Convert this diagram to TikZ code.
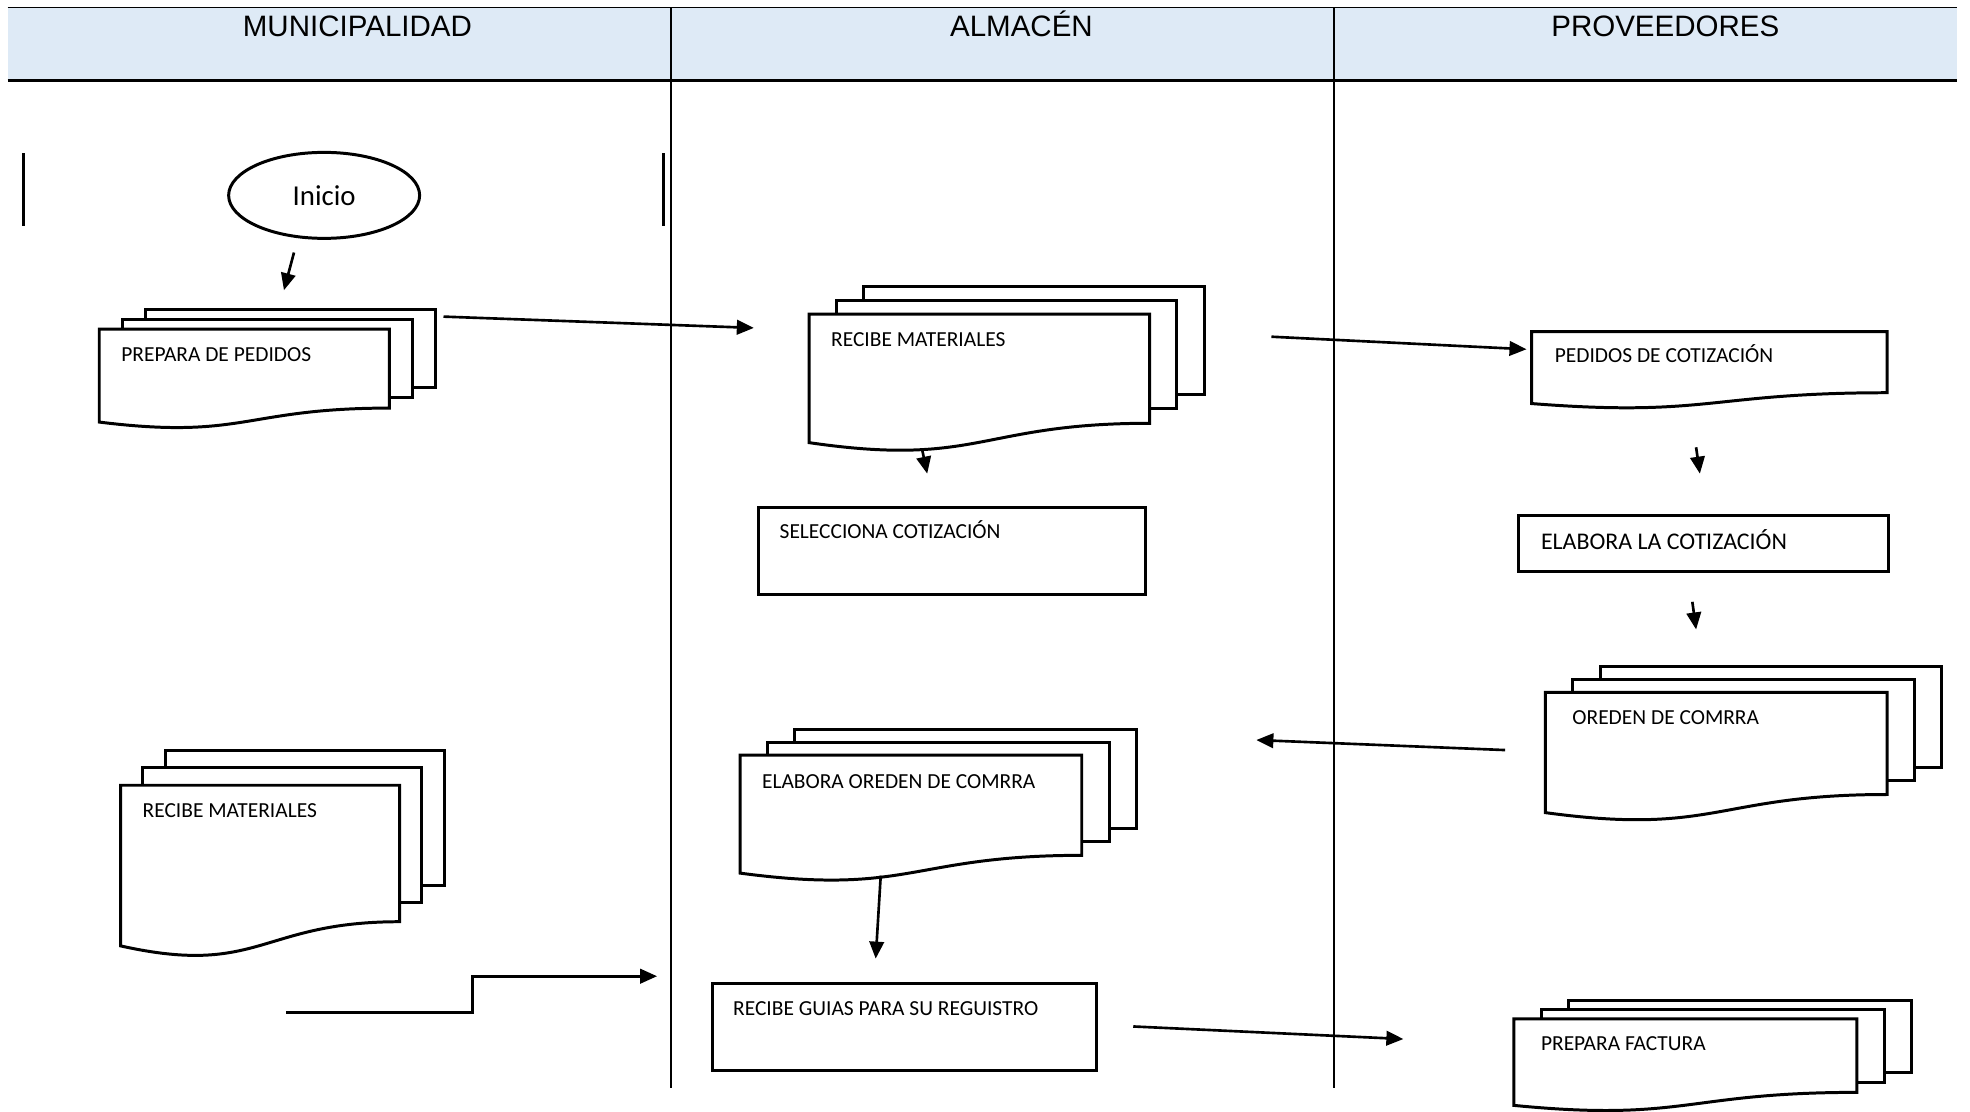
\documentclass[tikz,border=0pt]{standalone}
\usepackage{fontspec}
\setmainfont{Carlito}
\newfontfamily\headfont{Liberation Sans}
\usetikzlibrary{arrows.meta}
\usetikzlibrary{shapes.geometric}
\definecolor{headblue}{RGB}{222,234,246}

\tikzset{
  page/.style={draw=black, fill=white, line width=0.85pt},
  flow/.style={line width=0.75pt, -{Triangle[length=1.7mm,width=1.45mm]}},
  lane/.style={line width=0.45pt},
  doctext/.style={anchor=base west, inner sep=0pt, font=\fontsize{6.1}{7}\selectfont},
  lanetitle/.style={anchor=base, inner sep=0pt, font=\headfont\fontsize{8.4}{10}\selectfont}
}

% one page with a wavy bottom: x, y (top left), width, height
\newcommand\docpage[4]{%
  \draw[page] (#1,#2) -- (#1+#3,#2) -- (#1+#3,#2+0.79*#4)
    .. controls (#1+0.5*#3,#2+0.79*#4) and (#1+0.5*#3,#2+1.11*#4) .. (#1,#2+0.93*#4) -- cycle;}
% three pages
\newcommand\docstack[4]{%
  \draw[page] (#1+0.16*#3,#2-0.2*#4) rectangle (#1+1.16*#3,#2+0.58*#4);
  \draw[page] (#1+0.08*#3,#2-0.1*#4) rectangle (#1+1.08*#3,#2+0.68*#4);
  \docpage{#1}{#2}{#3}{#4}}

\begin{document}
\begin{tikzpicture}[x=0.12564mm, y=-0.12564mm]
\useasboundingbox (0,0) rectangle (1568,884.3);

% header
\fill[headblue] (6,6) rectangle (1558,64);
\draw[lane] (6,6) -- (1558,6);
\draw[line width=0.9pt] (6,64) -- (1558,64);
\draw[lane] (534,6) -- (534,866);
\draw[lane] (1062,6) -- (1062,866);
\node[lanetitle] (muni) at (284.5,29) {MUNICIPALIDAD};
\node[lanetitle] (alm) at (813,29) {ALMACÉN};
\node[lanetitle] (prov) at (1325.5,29) {PROVEEDORES};

\draw[line width=0.8pt] (19,122) -- (19,180);
\draw[line width=0.8pt] (528,122) -- (528,180);

% municipalidad
\node[draw, ellipse, line width=0.85pt, minimum width=19.1mm, minimum height=8.6mm,
  font=\fontsize{8.2}{10}\selectfont] (inicio) at (258,155.5) {Inicio};
\docstack{79}{262}{231}{79.5}
\node[doctext] (prepara) at (96,288) {PREPARA DE PEDIDOS};
\docstack{96}{625}{222}{137.5}
\node[doctext] (recibeMun) at (113,650.5) {RECIBE MATERIALES};

% almacen
\docstack{644}{250}{271}{110}
\node[doctext] (recibeAlm) at (661,275.5) {RECIBE MATERIALES};
\draw[page] (604,404) rectangle (912,473);
\node[doctext] (selecciona) at (620,428.5) {SELECCIONA COTIZACIÓN};
\docstack{589}{601}{272}{101}
\node[doctext] (elaboraOrden) at (606,627.5) {ELABORA OREDEN DE COMRRA};
\draw[page] (567,783) rectangle (873,852);
\node[doctext] (guias) at (583,808.5) {RECIBE GUIAS PARA SU REGUISTRO};

% proveedores
\docpage{1219}{264}{283}{61.5}
\node[doctext] (pedidos) at (1237,288.5) {PEDIDOS DE COTIZACIÓN};
\draw[page] (1209,410) rectangle (1503,455);
\node[doctext, font=\fontsize{6.8}{8}\selectfont] (elaboraCot) at (1226,437) {ELABORA LA COTIZACIÓN};
\docstack{1230}{551}{272}{103}
\node[doctext] (orden) at (1251,576.5) {OREDEN DE COMRRA};
\docstack{1205}{811}{273}{74}
\node[doctext] (factura) at (1226,836.5) {PREPARA FACTURA};

% arrow ends
\coordinate (a1) at (234,201);  \coordinate (b1) at (226,231);
\coordinate (a2) at (353,252);  \coordinate (b2) at (600,261);
\coordinate (a3) at (734,358);  \coordinate (b3) at (738,377);
\coordinate (a4) at (1012,268); \coordinate (b4) at (1215,278);
\coordinate (a5) at (1350,356); \coordinate (b5) at (1353,377);
\coordinate (a6) at (1347,479); \coordinate (b6) at (1350,501);
\coordinate (a7) at (1198,597); \coordinate (b7) at (1000,589);
\coordinate (a8) at (701,697);  \coordinate (b8) at (697,763);
\coordinate (a9) at (902,817);  \coordinate (b9) at (1117,827);
\coordinate (a10) at (228,806); \coordinate (b10) at (523,777);

\draw[flow] (a1) -- (b1);
\draw[flow] (a2) -- (b2);
\draw[flow] (a3) -- (b3);
\draw[flow] (a4) -- (b4);
\draw[flow] (a5) -- (b5);
\draw[flow] (a6) -- (b6);
\draw[flow] (a7) -- (b7);
\draw[flow] (a8) -- (b8);
\draw[flow] (a9) -- (b9);
\draw[flow] (a10) -- (376,806) -- (376,777) -- (b10);

\end{tikzpicture}
\end{document}
